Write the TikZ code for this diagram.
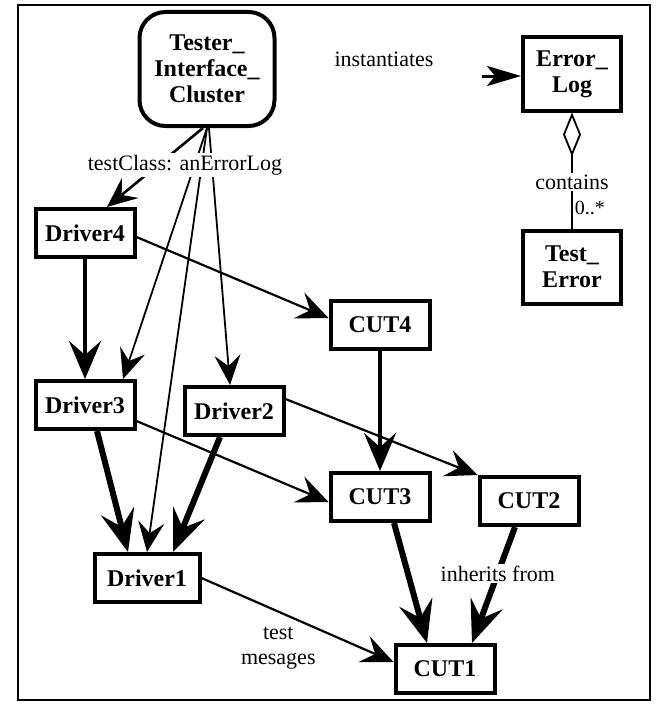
\documentclass[tikz,border=0pt]{standalone}
\usepackage{fontspec}
\setmainfont{Liberation Serif}
\usetikzlibrary{arrows.meta}

\begin{document}
\begin{tikzpicture}[x=1pt, y=-1pt,
    box/.style={draw, line width=4pt, minimum width=99pt, minimum height=48pt,
                inner sep=2pt, align=center, font=\bfseries\fontsize{24}{26}\selectfont},
    cluster/.style={box, rounded corners=26pt, minimum width=135pt, minimum height=114pt},
    tall/.style={box, minimum width=98pt, minimum height=73pt},
    lbl/.style={font=\fontsize{22}{25}\selectfont, inner sep=2pt, align=center},
    feed/.style={line width=1.8pt, -{Stealth[length=30pt, width=26pt, inset=11pt]}},
    link/.style={line width=2.2pt, -{Stealth[length=32pt, width=28pt, inset=12pt]}},
    heavy/.style={line width=4pt, -{Stealth[length=38pt, width=32pt, inset=14pt]}},
    heavier/.style={line width=6pt, -{Stealth[length=42pt, width=34pt, inset=16pt]}}]
  \useasboundingbox (0,0) rectangle (657,709);
  \draw[line width=1.5pt] (18,5) rectangle (650,700);

  \node[cluster] (tester)  at (207,69)  {Tester\_\\Interface\_\\Cluster};
  \node[tall]    (errlog)  at (572,74)  {Error\_\\Log};
  \node[tall]    (testerr) at (572,267) {Test\_\\Error};
  \node[box]     (drv4)    at (85,233)  {Driver4};
  \node[box]     (drv3)    at (85,405)  {Driver3};
  \node[box]     (drv2)    at (234,411) {Driver2};
  \node[box, minimum width=105pt] (drv1) at (147,578) {Driver1};
  \node[box]     (cut4)    at (380,325) {CUT4};
  \node[box]     (cut3)    at (380,497) {CUT3};
  \node[box]     (cut2)    at (529,501) {CUT2};
  \node[box]     (cut1)    at (445,669) {CUT1};

  \draw[feed, line width=2.6pt] ([xshift=-4pt]tester.south) -- ([xshift=22pt]drv4.north);
  \draw[feed] (tester.south) -- ([xshift=38pt]drv3.north);
  \draw[feed] (tester.south) -- (drv1.north);
  \draw[feed] ([xshift=2pt]tester.south) -- ([xshift=-4pt]drv2.north);
  \node[lbl, fill=white] (tclbl) at (185,165) {testClass: anErrorLog};

  \draw[link] ([yshift=-4pt]drv4.east) -- ([yshift=7pt]cut4.west);
  \draw[heavy] (drv4.south) -- (drv3.north);
  \draw[heavy] (cut4.south) -- (cut3.north);
  \draw[link] ([yshift=-16pt]drv3.east) -- ([yshift=-5pt]cut3.west);
  \draw[link] ([yshift=12pt]drv2.east) -- (cut2.north west);
  \draw[heavier] ([xshift=12pt]drv3.south) -- ([xshift=-19pt]drv1.north);
  \draw[heavier] ([xshift=-14pt]drv2.south) -- ([xshift=26pt]drv1.north);
  \draw[link] (drv1.east) -- node[lbl, pos=0.4, anchor=north, yshift=-12pt] {test\\mesages}
    ([yshift=7pt]cut1.west);
  \draw[heavier] ([xshift=14pt]cut3.south) -- ([xshift=-18pt]cut1.north);
  \draw[heavier] ([xshift=-14pt]cut2.south) -- node[lbl, fill=white, pos=0.4] {inherits from}
    ([xshift=27pt]cut1.north);

  \coordinate (instart) at (482,76);
  \node[lbl] (instlbl) at (384,59) {instantiates};
  \draw[line width=3pt, -{Stealth[length=34pt, width=20pt, inset=8pt]}] (instart) -- (instart -| errlog.west);

  \draw[line width=1.8pt, {Diamond[open, length=44pt, width=18pt]}-] (errlog.south) --
    node[lbl, fill=white, pos=0.6] {contains}
    node[lbl, pos=0.82, right, font=\fontsize{20}{22}\selectfont] {0..*} (testerr.north);
\end{tikzpicture}
\end{document}
